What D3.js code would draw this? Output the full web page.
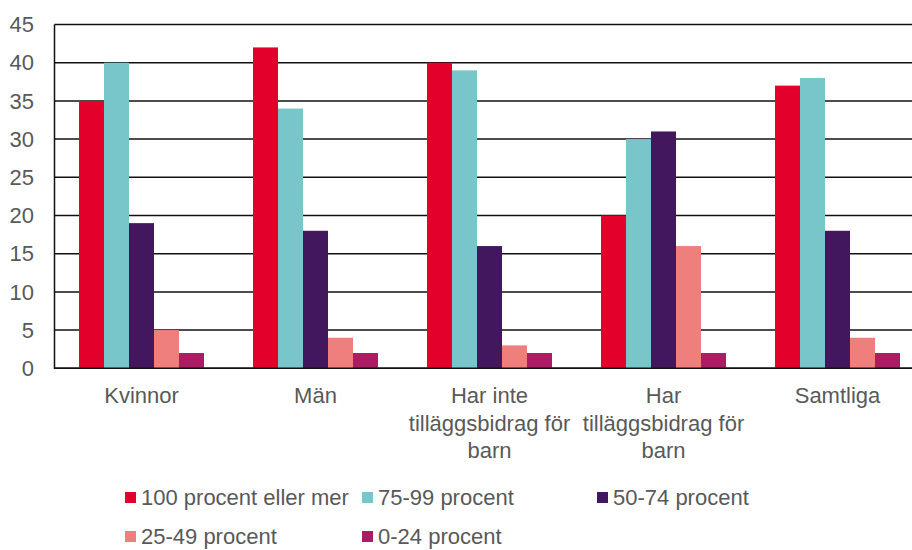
<!DOCTYPE html>
<html>
<head>
<meta charset="utf-8">
<script src="https://cdn.jsdelivr.net/npm/d3@7"></script>
<style>
  html, body { margin: 0; padding: 0; background: #fff; }
  svg { display: block; }
  text { font-family: "Liberation Sans", Arial, sans-serif; fill: #595959; }
</style>
</head>
<body>
<div id="chart"></div>
<script>
const categories = ["Kvinnor", "Män", "Har inte tilläggsbidrag för barn", "Har tilläggsbidrag för barn", "Samtliga"];
const seriesNames = ["100 procent eller mer", "75-99 procent", "50-74 procent", "25-49 procent", "0-24 procent"];
const seriesColors = ["#E3002B", "#78C6C9", "#43175E", "#EE7F7C", "#AA1D64"];
const s100 = [35, 42, 40, 20, 37];
const s75 = [40, 34, 39, 30, 38];
const s50 = [19, 18, 16, 31, 18];
const s25 = [5, 4, 3, 16, 4];
const s0 = [2, 2, 2, 2, 2];
const seriesValues = [s100, s75, s50, s25, s0];
const yTicks = [0, 5, 10, 15, 20, 25, 30, 35, 40, 45];

const W = 912, H = 550;
const FS = 22;
const plot = { left: 54.5, right: 924.5, top: 24.5, bottom: 368.3 };

const svg = d3.select("#chart").append("svg").attr("width", W).attr("height", H);

const y = d3.scaleLinear().domain([0, 45]).range([plot.bottom, plot.top]);
const x0 = d3.scaleBand().domain(categories).range([plot.left, plot.right])
  .paddingInner(0.2816).paddingOuter(0.1408);
const x1 = d3.scaleBand().domain(seriesNames).range([0, x0.bandwidth()]).padding(0);

// gridlines
svg.append("g").selectAll("line").data(yTicks).join("line")
  .attr("x1", plot.left).attr("x2", W)
  .attr("y1", d => y(d)).attr("y2", d => y(d))
  .attr("stroke", "#111").attr("stroke-width", 1.5);

// bars
const rows = [];
categories.forEach((c, ci) => seriesNames.forEach((s, si) => rows.push({ c, s, si, v: seriesValues[si][ci] })));
svg.append("g").selectAll("rect").data(rows).join("rect")
  .attr("x", d => x0(d.c) + x1(d.s))
  .attr("width", x1.bandwidth())
  .attr("y", d => y(d.v))
  .attr("height", d => y(0) - y(d.v))
  .attr("fill", d => seriesColors[d.si]);

// axis lines
svg.append("line").attr("x1", plot.left).attr("x2", plot.left)
  .attr("y1", plot.top).attr("y2", plot.bottom + 0.75)
  .attr("stroke", "#111").attr("stroke-width", 1.5);
svg.append("line").attr("x1", plot.left).attr("x2", W)
  .attr("y1", plot.bottom).attr("y2", plot.bottom)
  .attr("stroke", "#111").attr("stroke-width", 1.5);

// y tick labels
svg.append("g").selectAll("text").data(yTicks).join("text")
  .attr("x", 34).attr("y", d => y(d)).attr("dy", "0.35em")
  .attr("text-anchor", "end").attr("font-size", FS)
  .text(d => d);

// category labels with wrapping
const catG = svg.append("g");
categories.forEach(c => {
  const cx = x0(c) + x0.bandwidth() / 2;
  const t = catG.append("text").attr("text-anchor", "middle").attr("font-size", FS)
    .attr("x", cx).attr("y", 403);
  const words = c.split(" ");
  let lines = [], line = [];
  const probe = svg.append("text").attr("font-size", FS);
  words.forEach(w => {
    const test = line.concat([w]).join(" ");
    probe.text(test);
    if (probe.node().getComputedTextLength() > 165 && line.length) {
      lines.push(line.join(" "));
      line = [w];
    } else line.push(w);
  });
  lines.push(line.join(" "));
  probe.remove();
  lines.forEach((l, i) => {
    t.append("tspan").attr("x", cx).attr("y", 403 + i * 27.5).text(l);
  });
});

// legend
const legendPos = [[125, 492], [362, 492], [597, 492], [125, 531], [362, 531]];
const lg = svg.append("g");
seriesNames.forEach((s, i) => {
  const [lx, ly] = legendPos[i];
  lg.append("rect").attr("x", lx).attr("y", ly).attr("width", 11).attr("height", 11).attr("fill", seriesColors[i]);
  lg.append("text").attr("x", lx + 16).attr("y", ly + 12.5).attr("font-size", FS).text(s);
});
</script>
</body>
</html>
